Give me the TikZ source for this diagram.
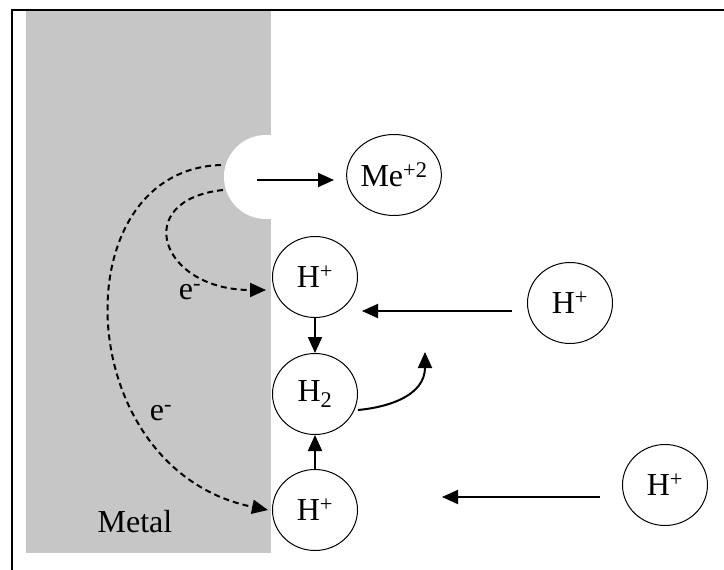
\documentclass[tikz,border=0pt]{standalone}
\usepackage{fontspec}
\setmainfont{Liberation Serif}
\usetikzlibrary{shapes.geometric,arrows.meta}
\begin{document}
\begin{tikzpicture}[x=1pt,y=-1pt,
  ion/.style={draw, line width=1pt, ellipse, inner sep=0pt, minimum width=85pt, minimum height=81pt, font=\fontsize{32}{34}\selectfont},
  arr/.style={line width=2pt, -{Triangle[length=16pt,width=14pt]}},
  darr/.style={line width=2pt, dash pattern=on 6pt off 4pt, -{Triangle[length=16pt,width=14pt]}},
  lbl/.style={font=\fontsize{32}{34}\selectfont, inner sep=0pt}]
\useasboundingbox (0,0) rectangle (724,570);
% metal
\fill[gray!45] (26,11) rectangle (271,553);
\fill[white] (266,177) circle[radius=42];
\draw[line width=2.5pt] (12,570) -- (12,10) -- (724,10);
% ions
\node[ion] (me) at (394,175) {Me\textsuperscript{+2}};
\node[ion] (h1) at (315,277) {H\textsuperscript{+}};
\node[ion] (h2) at (315,394) {H\textsubscript{2}};
\node[ion] (h3) at (315,510) {H\textsuperscript{+}};
\node[ion] (h4) at (570,303) {H\textsuperscript{+}};
\node[ion] (h5) at (665,485) {H\textsuperscript{+}};
% labels
\node[lbl] (m) at (135,522) {Metal};
\node[lbl] (e1) at (190,292) {e\textsuperscript{-}};
\node[lbl] (e2) at (161,413) {e\textsuperscript{-}};
% coordinates
\coordinate (ps) at (257,180);
\coordinate (pe) at (334,180);
\coordinate (a4s) at (512,311);
\coordinate (a4e) at (362,311);
\coordinate (a5s) at (600,497);
\coordinate (a5e) at (442,497);
\coordinate (cu) at (425,352);
\coordinate (d1) at (221,165);
\coordinate (d2) at (223,190);
\coordinate (t1) at (268,510);
\coordinate (t2) at (266,290);
% arrows
\draw[arr] (ps) -- (pe);
\draw[arr] (a4s) -- (a4e);
\draw[arr] (a5s) -- (a5e);
\draw[arr] (h1.south) -- (h2.north);
\draw[arr] (h3.north) -- (h2.south);
\draw[arr] (h2.east) ++(0,16) .. controls (390,407) and (425,395) .. (cu);
% dashed electron paths
\draw[darr] (d1) .. controls (60,170) and (70,470) .. (t1);
\draw[darr] (d2) .. controls (130,200) and (160,290) .. (t2);
\end{tikzpicture}
\end{document}
